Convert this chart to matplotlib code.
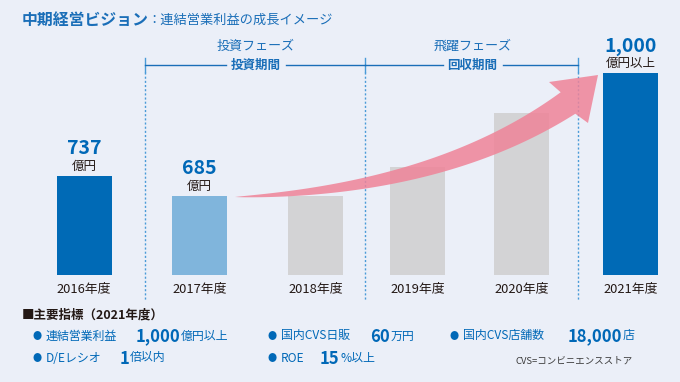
import numpy as np
import matplotlib
matplotlib.use("Agg")
import matplotlib.pyplot as plt
from matplotlib.patches import Polygon

plt.rcParams['font.family'] = ['Noto Sans CJK JP', 'DejaVu Sans']

# ---- data ----
years = ["2016年度", "2017年度", "2018年度", "2019年度", "2020年度", "2021年度"]
bar_heights = [99, 79, 79, 108, 162, 202]          # illustrative heights
value_labels = ["737", "685", None, None, None, "1,000"]
unit_labels = ["億円", "億円", None, None, None, "億円以上"]
phases = ["投資フェーズ", "飛躍フェーズ"]
periods = ["投資期間", "回収期間"]
kpi_names = ["連結営業利益", "D/Eレシオ", "国内CVS日販", "ROE", "国内CVS店舗数"]
kpi_values = ["1,000", "1", "60", "15", "18,000"]
kpi_units = ["億円以上", "倍以内", "万円", "%以上", "店"]

# ---- layout / style ----
W, H = 680, 382
bar_x = [84, 199.5, 315.5, 417.5, 521.5, 630.5]
bar_w = 55
base_y = 275
top_y = 73
bar_colors = ["#006AB6", "#80B5DC", "#D3D3D5", "#D3D3D5", "#D3D3D5", "#006AB6"]
BG = "#EBEFF8"
BLUE = "#0068B7"
TBLUE = "#1A6EB8"
TXT = "#231815"

fig = plt.figure(figsize=(W / 100, H / 100), dpi=100)
fig.patch.set_facecolor(BG)

# bar axes
axb = fig.add_axes([0, 1 - base_y / H, 1, (base_y - top_y) / H])
axb.set_xlim(0, W)
axb.set_ylim(0, 202)
axb.bar(bar_x, bar_heights, width=bar_w, color=bar_colors, zorder=2)
axb.axis("off")

# overlay axes in pixel coordinates
ax = fig.add_axes([0, 0, 1, 1], zorder=3)
ax.set_xlim(0, W)
ax.set_ylim(H, 0)
ax.axis("off")
ax.patch.set_alpha(0)

# title
ax.text(22, 20, "中期経営ビジョン", fontsize=11.4, fontweight="bold", color=TBLUE, va="center", ha="left")
ax.text(147, 20, "：連結営業利益の成長イメージ", fontsize=9.5, color=TBLUE, va="center", ha="left")

# dividers
for x in [145, 365, 578]:
    ax.plot([x, x], [72, 300], ls=(0, (1.5, 1.5)), color="#4A9BD8", lw=1, zorder=1)
    ax.plot([x, x], [58, 72], color="#4A9BD8", lw=1, zorder=1)

# phase brackets
spans = [(145, 365), (365, 578)]
for (x0, x1), ph, pe in zip(spans, phases, periods):
    cx = (x0 + x1) / 2 + 1
    ax.text(cx, 46, ph, fontsize=9.4, color=TBLUE, ha="center", va="center")
    ax.text(cx, 65, pe, fontsize=9.0, fontweight="bold", color=TBLUE, ha="center", va="center")
    ax.plot([x0, cx - 30], [65, 65], color=TBLUE, lw=1)
    ax.plot([cx + 30, x1], [65, 65], color=TBLUE, lw=1)

# value labels
for x, h, v, u in zip(bar_x, bar_heights, value_labels, unit_labels):
    if v is None:
        continue
    ytop = base_y - h
    ax.text(x, ytop - 27, v, fontsize=14, fontweight="bold", color=BLUE, ha="center", va="center")
    ax.text(x, ytop - 10, u, fontsize=9, color=TXT, ha="center", va="center")

# year labels
for x, y in zip(bar_x, years):
    ax.text(x, 289, y, fontsize=9.3, color=TXT, ha="center", va="center")

# growth arrow
P0, P1, P2 = np.array([235, 197.0]), np.array([440, 190.0]), np.array([568, 103.0])
t = np.linspace(0, 1, 120)
pts = ((1 - t) ** 2)[:, None] * P0 + (2 * t * (1 - t))[:, None] * P1 + (t ** 2)[:, None] * P2
d = (2 * (1 - t))[:, None] * (P1 - P0) + (2 * t)[:, None] * (P2 - P1)
d /= np.linalg.norm(d, axis=1)[:, None]
nrm = np.stack([d[:, 1], -d[:, 0]], axis=1)
w = 26 * t ** 0.8
upper = pts + nrm * (w / 2)[:, None]
lower = pts - nrm * (w / 2)[:, None]
head = [(549, 82), (598, 75), (588, 123)]
poly = np.vstack([upper, head, lower[::-1]])
ax.add_patch(Polygon(poly, closed=True, facecolor="#EF8398", edgecolor="none", alpha=0.85, zorder=2))

# bottom indicators
ax.text(22, 315, "■主要指標（2021年度）", fontsize=9.0, fontweight="bold", color=TXT, ha="left", va="center")

renderer = fig.canvas.get_renderer()
inv = ax.transData.inverted()

def item(xb, y, name, val, unit, xval):
    ax.text(xb, y, "●", fontsize=6.5, color=BLUE, ha="center", va="center")
    ax.text(xb + 9, y, name, fontsize=8.6, color=BLUE, ha="left", va="center")
    tv = ax.text(xval, y + 0.5, val, fontsize=12, fontweight="bold", color=BLUE, ha="left", va="center")
    bb = tv.get_window_extent(renderer)
    xr = inv.transform((bb.x1, bb.y0))[0]
    ax.text(xr + 0.5, y, unit, fontsize=8.6, color=BLUE, ha="left", va="center")

item_pos = [(37, 336, 136), (37, 358, 120), (272, 336, 370), (272, 358, 320), (454, 336, 568)]
for (xb, y, xv), n, v, u in zip(item_pos, kpi_names, kpi_values, kpi_units):
    item(xb, y, n, v, u, xv)

ax.text(516, 361, "CVS=コンビニエンスストア", fontsize=6.8, color="#3A3A3A", ha="left", va="center")

fig.savefig("out.png", dpi=100, facecolor=BG)
